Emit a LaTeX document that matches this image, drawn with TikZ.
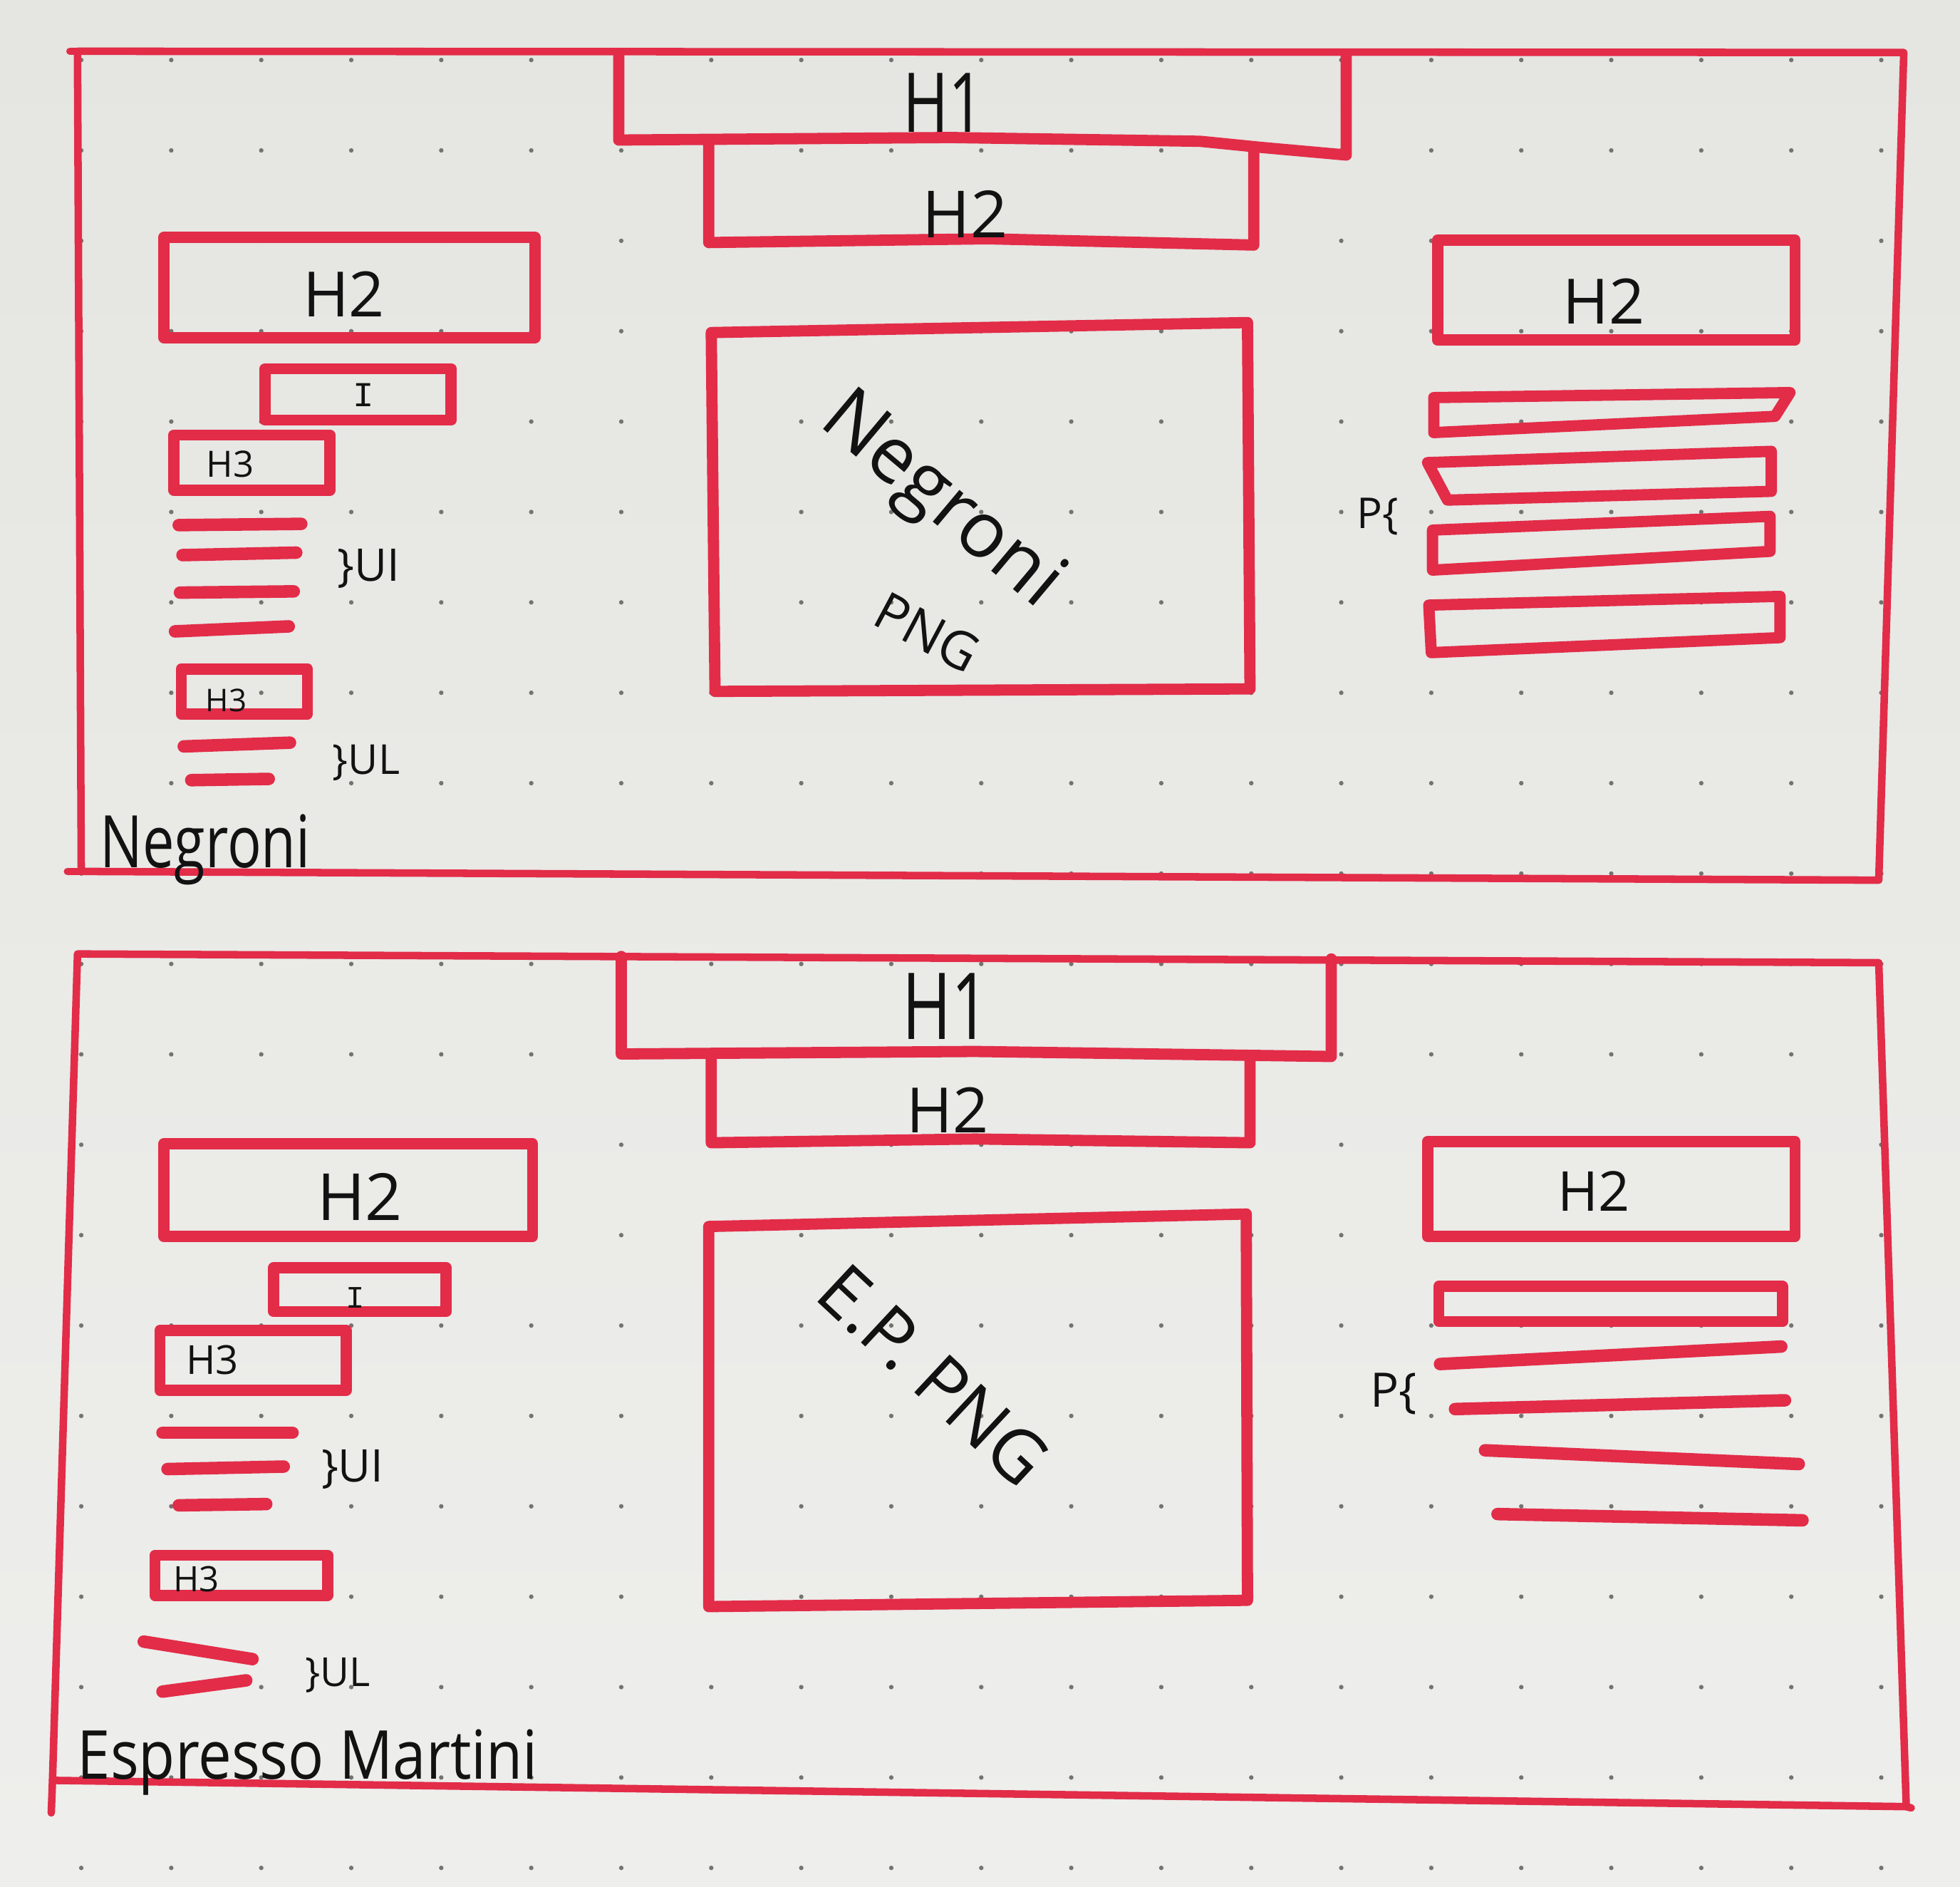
\documentclass[tikz,border=0pt]{standalone}
\usepackage{fontspec}
\setmainfont{Open Sans}
\newfontfamily\monof{Liberation Mono}
\definecolor{pen}{RGB}{226,44,72}
\definecolor{papertop}{RGB}{229,229,225}
\definecolor{paperbot}{RGB}{238,238,236}
\definecolor{dotc}{RGB}{115,115,112}
\definecolor{ink}{RGB}{18,18,18}
\newcommand\myfs[1]{\fontsize{#1pt}{#1pt}\selectfont}
\begin{document}
\begin{tikzpicture}[x=1pt,y=-1pt,
  frameline/.style={draw=pen, line width=6pt, line join=round, line cap=round},
  boxline/.style={draw=pen, line width=9pt, line join=round, line cap=round},
  barline/.style={draw=pen, line width=10pt, line cap=round},
  lab/.style={text=ink, inner sep=0pt, outer sep=0pt},
]
% paper
\shade[top color=papertop, bottom color=paperbot] (0,0) rectangle (1568,1509);
\useasboundingbox (0,0) rectangle (1568,1509);
% dot grid
\foreach \i in {0,...,20}{
  \foreach \j in {0,...,20}{
    \fill[dotc] ({65+72*\i},{48+72.3*\j}) circle (1.8pt);
  }
}

% ================= TOP PANEL (Negroni) =================
\draw[frameline] (62,41) -- (1523,42) -- (1503,704) -- (65,697) -- cycle;
\draw[frameline] (54,697) -- (65,697);
\draw[frameline] (56,41) -- (62,41);
% H1 / H2 header
\draw[boxline] (495,44) -- (495,112) -- (760,110) -- (960,113) -- (1010,118) -- (1077,124) -- (1077,44);
\draw[boxline] (567,114) -- (567,194) -- (790,191) -- (1003,196) -- (1003,118);
\node[lab, font=\myfs{66}] (t_h1) at (755,82) {\scalebox{0.75}[1]{H1}};
\node[lab, font=\myfs{52}] (t_h2c) at (772,171) {H2};
% left column
\draw[boxline] (131,190) rectangle (428,270);
\node[lab, font=\myfs{50}] (t_h2l) at (275,235) {H2};
\draw[boxline] (212,295) rectangle (361,336);
\node[lab, font=\monof\myfs{28}] (t_i) at (291,316) {I};
\draw[boxline] (139,348) rectangle (264,392);
\node[lab, font=\myfs{29}] (t_h3a) at (184,371) {H3};
\draw[barline] (143,420) -- (241,419);
\draw[barline] (146,444) -- (237,442);
\draw[barline] (144,474) -- (235,473);
\draw[barline] (140,505) -- (231,501);
\node[lab, font=\myfs{36}] (t_ul1) at (295,455) {\}UI};
\draw[boxline] (145,535) rectangle (246,571);
\node[lab, font=\myfs{25}] (t_h3b) at (181,560) {H3};
\draw[barline] (147,597) -- (232,594);
\draw[barline] (153,624) -- (215,623);
\node[lab, font=\myfs{33}] (t_ul2) at (293,610) {\}UL};
\node[lab, font=\myfs{58}, anchor=base west] (t_name1) at (80,694) {\scalebox{0.78}[1]{Negroni}};
% image
\draw[boxline] (569,266) -- (998,258) -- (1000,551) -- (572,553) -- cycle;
\node[lab, font=\myfs{62}, rotate=-40] (t_img1) at (752,402) {Negroni};
\node[lab, font=\myfs{42}, rotate=-28] (t_png1) at (742,506) {PNG};
% right column
\draw[boxline] (1150,192) rectangle (1436,272);
\node[lab, font=\myfs{50}] (t_h2r) at (1283,241) {H2};
\draw[boxline] (1147,318) -- (1432,314) -- (1420,333) -- (1147,346) -- cycle;
\draw[boxline] (1142,370) -- (1417,361) -- (1417,393) -- (1158,400) -- cycle;
\draw[boxline] (1146,424) -- (1416,413) -- (1416,441) -- (1146,456) -- cycle;
\draw[boxline] (1143,484) -- (1424,477) -- (1424,510) -- (1145,522) -- cycle;
\node[lab, font=\myfs{34}] (t_p1) at (1102,413) {P\{};

% ================= BOTTOM PANEL (Espresso Martini) =================
\draw[frameline] (62,763) -- (1503,770) -- (1525,1445) -- (42,1424) -- cycle;
\draw[frameline] (42,1424) -- (41,1450);
\draw[frameline] (1525,1445) -- (1529,1446);
% H1 / H2 header
\draw[boxline] (497,765) -- (497,843) -- (780,841) -- (1065,845) -- (1065,767);
\draw[boxline] (569,845) -- (569,914) -- (780,911) -- (1000,914) -- (1000,847);
\node[lab, font=\myfs{74}] (b_h1) at (757,805) {\scalebox{0.72}[1]{H1}};
\node[lab, font=\myfs{50}] (b_h2c) at (758,888) {H2};
% left column
\draw[boxline] (131,915) rectangle (426,989);
\node[lab, font=\myfs{52}] (b_h2l) at (288,957) {H2};
\draw[boxline] (219,1014) rectangle (357,1049);
\node[lab, font=\monof\myfs{25}] (b_i) at (284,1038) {I};
\draw[boxline] (128,1064) rectangle (277,1112);
\node[lab, font=\myfs{32}] (b_h3a) at (170,1088) {H3};
\draw[barline] (130,1146) -- (234,1146);
\draw[barline] (134,1175) -- (227,1173);
\draw[barline] (143,1204) -- (213,1203);
\node[lab, font=\myfs{36}] (b_ul1) at (282,1175) {\}UI};
\draw[boxline] (124,1244) rectangle (262,1276);
\node[lab, font=\myfs{28}] (b_h3b) at (157,1263) {H3};
\draw[barline] (115,1313) -- (202,1327);
\draw[barline] (130,1353) -- (197,1344);
\node[lab, font=\myfs{32}] (b_ul2) at (270,1340) {\}UL};
\node[lab, font=\myfs{54}, anchor=base west] (b_name) at (62,1423) {\scalebox{0.88}[1]{Espresso Martini}};
% image
\draw[boxline] (567,981) -- (997,971) -- (998,1280) -- (567,1285) -- cycle;
\node[lab, font=\myfs{58}, rotate=-43] (b_img) at (747,1100) {E.P. PNG};
% right column
\draw[boxline] (1142,913) rectangle (1436,989);
\node[lab, font=\myfs{44}] (b_h2r) at (1275,953) {H2};
\draw[boxline] (1151,1029) rectangle (1426,1057);
\draw[barline] (1152,1091) -- (1425,1077);
\draw[barline] (1164,1127) -- (1428,1120);
\draw[barline] (1188,1160) -- (1439,1171);
\draw[barline] (1198,1211) -- (1442,1216);
\node[lab, font=\myfs{38}] (b_p) at (1115,1115) {P\{};
\end{tikzpicture}
\end{document}
